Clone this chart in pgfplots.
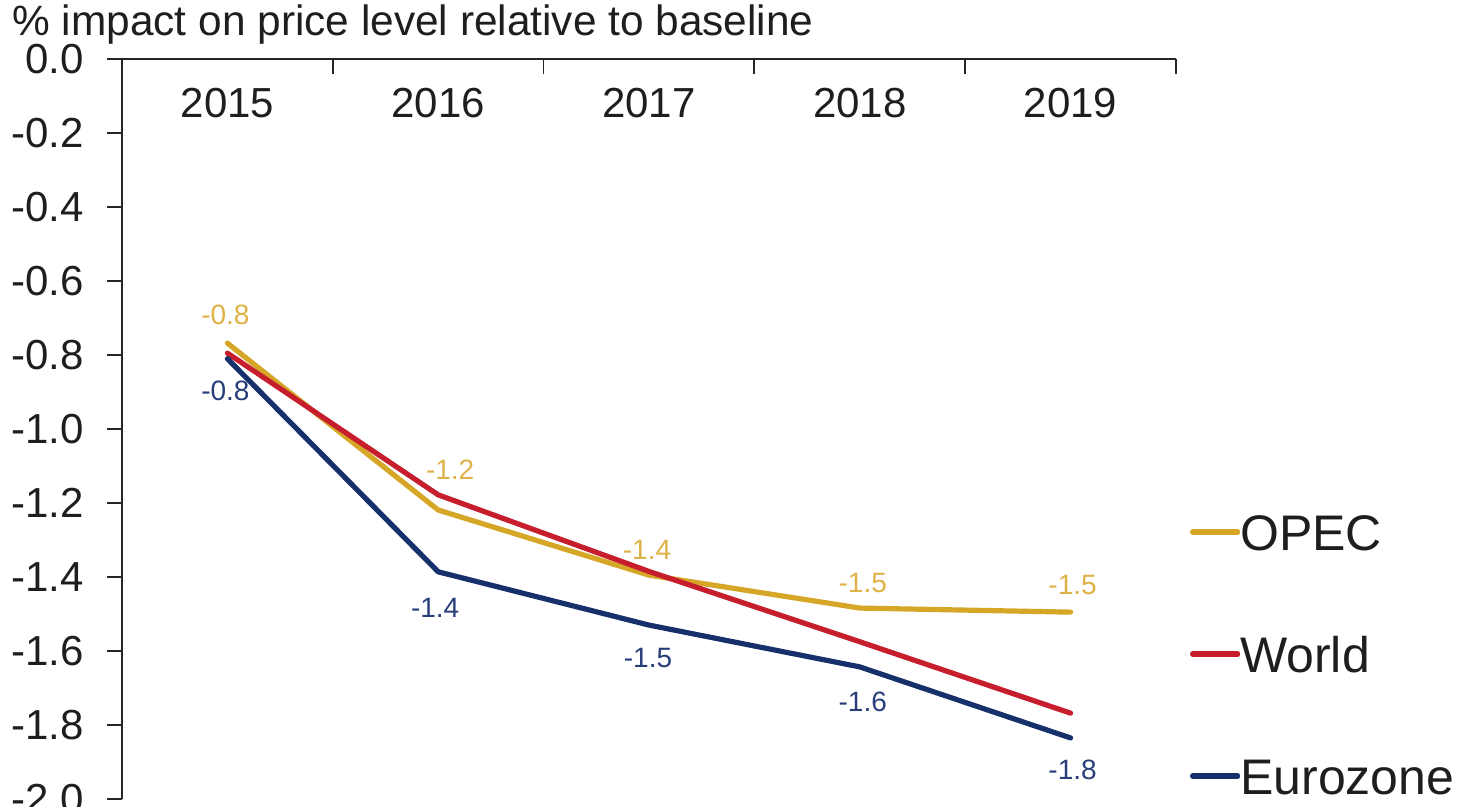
\documentclass[border=0pt]{standalone}
\usepackage{pgfplots}
\usepackage{pgfplotstable}
\pgfplotsset{compat=1.18}
\usepackage{fontspec}
\setmainfont{Liberation Sans}
\definecolor{opec}{RGB}{214,166,38}
\definecolor{opeclab}{RGB}{222,178,70}
\definecolor{world}{RGB}{198,30,44}
\definecolor{euro}{RGB}{22,48,108}
\definecolor{eurolab}{RGB}{40,62,122}
\definecolor{txt}{RGB}{30,30,30}

\pgfplotstableread{
x y dx dy
0 -0.768 -1 14
1 -1.219 6 20
2 -1.395 -1 12.5
3 -1.484 1.5 12.5
4 -1.495 1 13.5
}\opectab
\pgfplotstableread{
x y
0 -0.795
1 -1.178
2 -1.385
3 -1.575
4 -1.768
}\worldtab
\pgfplotstableread{
x y dx dy
0 -0.810 -1 -16
1 -1.386 -1.5 -18
2 -1.530 -0.5 -16.5
3 -1.643 1.5 -17.5
4 -1.835 1 -16
}\eurotab

\begin{document}
\begin{tikzpicture}
\begin{axis}[
  at={(0,0)}, anchor=south west,
  width=527pt, height=370pt, scale only axis,
  xmin=-0.5, xmax=4.5, ymin=-2, ymax=0,
  clip=false,
  axis x line=top, axis y line=left,
  axis line style={-, line width=0.9pt, color=black!85},
  tick align=inside,
  major tick length=7.5pt, minor tick length=7.5pt,
  every tick/.style={line width=0.9pt, color=black!85},
  xtick={0,1,2,3,4},
  xticklabels={2015,2016,2017,2018,2019},
  major x tick style={draw=none},
  minor xtick={-0.5,0.5,1.5,2.5,3.5,4.5},
  ytick={-2,-1.8,-1.6,-1.4,-1.2,-1,-0.8,-0.6,-0.4,-0.2,0},
  major y tick style={xshift=-7.5pt},
  /pgf/number format/assume math mode=true,
  yticklabel style={/pgf/number format/fixed, /pgf/number format/fixed zerofill, /pgf/number format/precision=1, anchor=east, inner sep=0pt, xshift=-19pt},
  xticklabel style={anchor=center, inner sep=0pt, yshift=-22pt},
  tick label style={font=\fontsize{21}{24}\selectfont, text=txt},
  legend cell align=left,
  legend style={at={(1.0133,0.385)}, anchor=north west, draw=none, fill=none,
    inner sep=0pt, outer sep=0pt, font=\fontsize{25}{28}\selectfont, text=txt,
    row sep=43pt, nodes={inner sep=0pt, text height=18pt, text depth=0pt},
    /tikz/every even column/.append style={column sep=4pt}},
  legend image code/.code={\draw[#1] (0pt,0pt) -- (22.5pt,0pt);},
  every node near coord/.append style={font=\fontsize{14}{16}\selectfont, anchor=center,
    /pgf/number format/fixed, /pgf/number format/fixed zerofill, /pgf/number format/precision=1},
]
\addplot[color=opec, line width=2.6pt, line cap=round, line join=round,
  point meta=y, nodes near coords,
  visualization depends on={\thisrow{dx} \as \dx},
  visualization depends on={\thisrow{dy} \as \dy},
  every node near coord/.append style={text=opeclab, xshift=\dx pt, yshift=\dy pt}]
  table[x=x, y=y] {\opectab};
\addlegendentry{OPEC}
\addplot[color=world, line width=2.6pt, line cap=round, line join=round]
  table[x=x, y=y] {\worldtab};
\addlegendentry{World}
\addplot[color=euro, line width=2.6pt, line cap=round, line join=round,
  point meta=y, nodes near coords,
  visualization depends on={\thisrow{dx} \as \dx},
  visualization depends on={\thisrow{dy} \as \dy},
  every node near coord/.append style={text=eurolab, xshift=\dx pt, yshift=\dy pt}]
  table[x=x, y=y] {\eurotab};
\addlegendentry{Eurozone}
\end{axis}
\node[anchor=base west, inner sep=0pt, font=\fontsize{21.2}{24}\selectfont, text=txt]
  at (-55pt,381.5pt) {\% impact on price level relative to baseline};
\pgfresetboundingbox
\useasboundingbox (-61pt,-4pt) rectangle (668pt,399.5pt);
\end{tikzpicture}
\end{document}
